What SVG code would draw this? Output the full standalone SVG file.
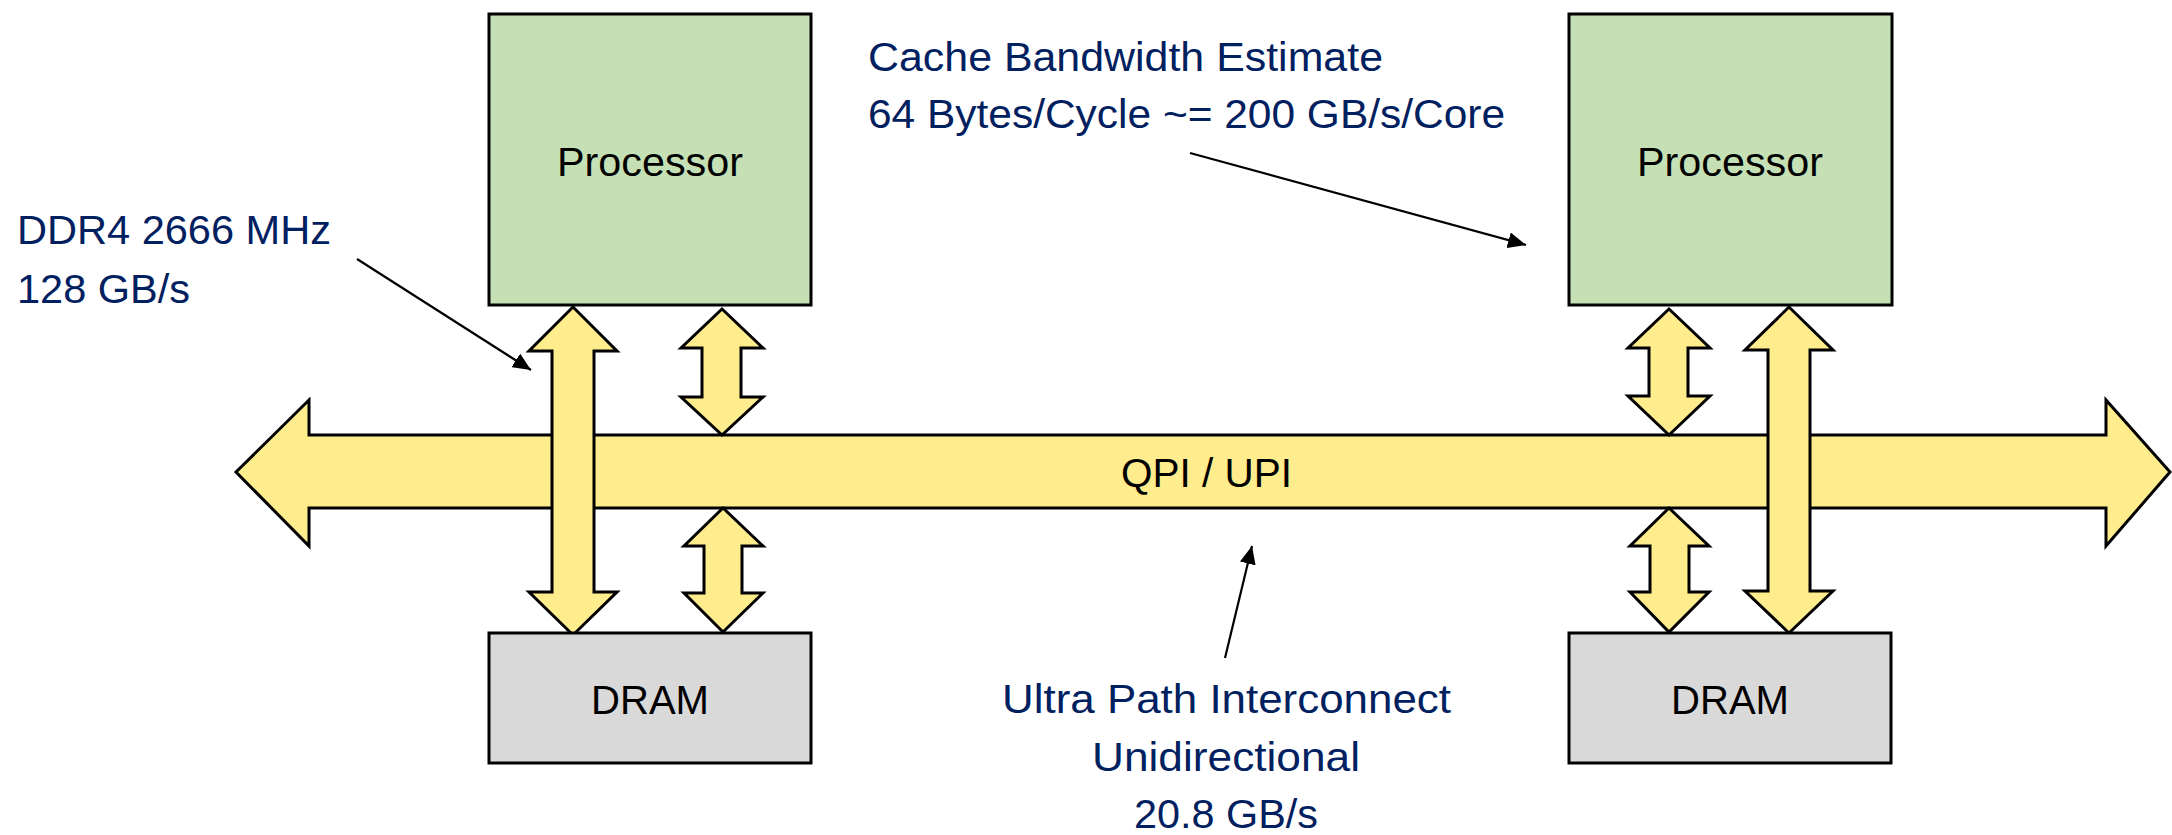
<svg xmlns="http://www.w3.org/2000/svg" width="2172" height="835" viewBox="0 0 2172 835">
<style>
.proc{fill:#C5E0B4;stroke:#000;stroke-width:3}
.dram{fill:#D9D9D9;stroke:#000;stroke-width:3}
.bus{fill:#FFEC8C;stroke:#000;stroke-width:3;stroke-linejoin:miter}
.lbl{font-family:"Liberation Sans",Arial,sans-serif;font-size:40px;fill:#000}
.ann{font-family:"Liberation Sans",Arial,sans-serif;font-size:40px;fill:#002060}
.lead{stroke:#000;stroke-width:2.2;fill:none}
</style>
<defs>
<marker id="ah" markerUnits="userSpaceOnUse" markerWidth="20" markerHeight="16" refX="18" refY="8" orient="auto">
<path d="M0,0 L18,8 L0,16 Z" fill="#000"/>
</marker>
</defs>
<g id="bus">
<polygon class="bus" points="236,472 309,400 309,435 2106,435 2106,400 2170,472 2106,546 2106,508 309,508 309,546"/>
<text class="lbl" x="1206.5" y="487" text-anchor="middle" textLength="171" lengthAdjust="spacingAndGlyphs">QPI / UPI</text>
</g>
<g id="connectors">
<polygon class="bus" points="573,307 529,351 552,351 552,592 529,592 573,635 617,592 594,592 594,351 617,351"/>
<polygon class="bus" points="722,309 681,348 702,348 702,397 681,397 722,435 763,397 741,397 741,348 763,348"/>
<polygon class="bus" points="723,508 684,546 704,546 704,593 684,593 723,632 763,593 742,593 742,546 763,546"/>
<polygon class="bus" points="1669,309 1628,348 1649,348 1649,396 1628,396 1669,435 1710,396 1688,396 1688,348 1710,348"/>
<polygon class="bus" points="1669,508 1630,546 1650,546 1650,592 1630,592 1669,632 1709,592 1689,592 1689,546 1709,546"/>
<polygon class="bus" points="1789,307 1745,350 1768,350 1768,591 1745,591 1789,633 1833,591 1810,591 1810,350 1833,350"/>
<line class="lead" x1="357" y1="259" x2="531" y2="370" marker-end="url(#ah)"/>
<line class="lead" x1="1190" y1="153" x2="1526" y2="245" marker-end="url(#ah)"/>
<line class="lead" x1="1225" y1="658" x2="1252" y2="546" marker-end="url(#ah)"/>
</g>
<g id="proc-left">
<rect class="proc" x="489" y="14" width="322" height="291"/>
<text class="lbl" x="650" y="176" text-anchor="middle" textLength="186" lengthAdjust="spacingAndGlyphs">Processor</text>
</g>
<g id="proc-right">
<rect class="proc" x="1569" y="14" width="323" height="291"/>
<text class="lbl" x="1730" y="176" text-anchor="middle" textLength="186" lengthAdjust="spacingAndGlyphs">Processor</text>
</g>
<g id="dram-left">
<rect class="dram" x="489" y="633" width="322" height="130"/>
<text class="lbl" x="650" y="714" text-anchor="middle" textLength="118" lengthAdjust="spacingAndGlyphs">DRAM</text>
</g>
<g id="dram-right">
<rect class="dram" x="1569" y="633" width="322" height="130"/>
<text class="lbl" x="1730" y="714" text-anchor="middle" textLength="118" lengthAdjust="spacingAndGlyphs">DRAM</text>
</g>
<g id="note-ddr">
<text class="ann" x="17" y="244" textLength="314" lengthAdjust="spacingAndGlyphs">DDR4 2666 MHz</text>
<text class="ann" x="17" y="302.5" textLength="173" lengthAdjust="spacingAndGlyphs">128 GB/s</text>
</g>
<g id="note-cache">
<text class="ann" x="868" y="71" textLength="515" lengthAdjust="spacingAndGlyphs">Cache Bandwidth Estimate</text>
<text class="ann" x="868" y="128" textLength="637" lengthAdjust="spacingAndGlyphs">64 Bytes/Cycle ~= 200 GB/s/Core</text>
</g>
<g id="note-upi">
<text class="ann" x="1226.5" y="713" text-anchor="middle" textLength="449" lengthAdjust="spacingAndGlyphs">Ultra Path Interconnect</text>
<text class="ann" x="1226" y="771" text-anchor="middle" textLength="268" lengthAdjust="spacingAndGlyphs">Unidirectional</text>
<text class="ann" x="1226" y="828" text-anchor="middle" textLength="184" lengthAdjust="spacingAndGlyphs">20.8 GB/s</text>
</g>
</svg>
